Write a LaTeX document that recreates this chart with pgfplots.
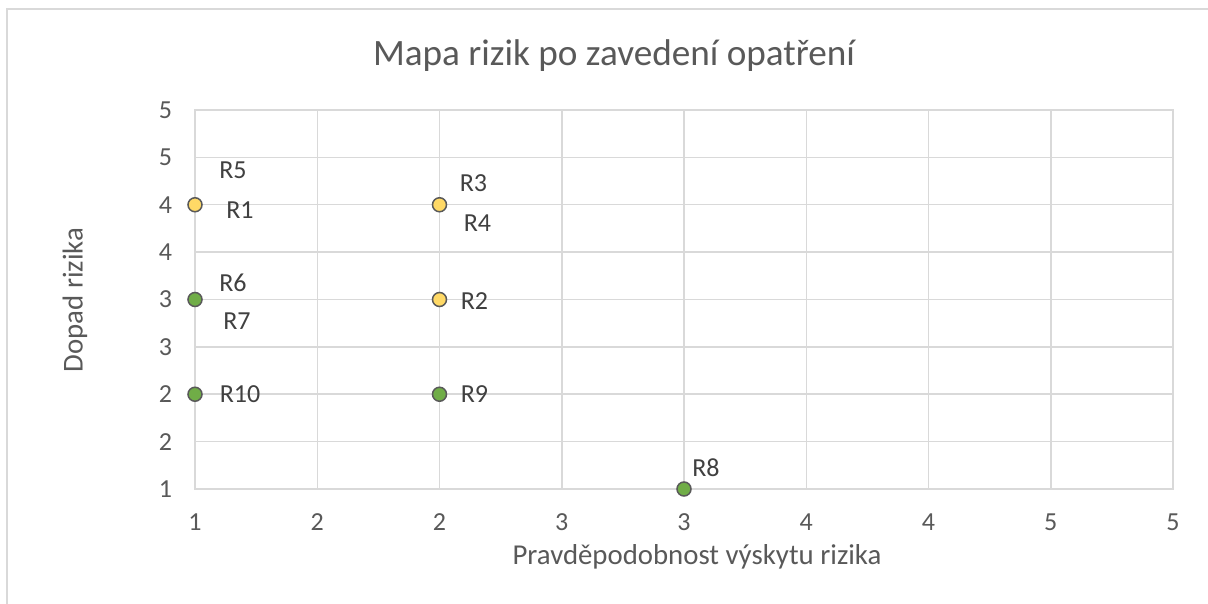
\documentclass[border=0pt]{standalone}
\usepackage{pgfplots}
\pgfplotsset{compat=1.18}
\usepackage{fontspec}
\setmainfont{Carlito}
\definecolor{txt}{HTML}{595959}
\definecolor{lab}{HTML}{404040}
\definecolor{grd}{HTML}{D9D9D9}
\definecolor{yel}{HTML}{FFD966}
\definecolor{grn}{HTML}{70AD47}
\begin{document}
\begin{tikzpicture}[x=0.5pt,y=0.5pt]
\path[use as bounding box] (0,0) rectangle (1208,604);
\fill[white] (0,0) rectangle (1208,604);
\draw[grd, line width=0.75pt] (7,-40) -- (7,595) -- (1230,595);
\node[txt, font=\fontsize{18.6}{22}\selectfont] at (614,548) {Mapa rizik po zavedení opatření};
\node[txt, font=\fontsize{14.4}{17}\selectfont] at (697,47) {Pravděpodobnost výskytu rizika};
\node[txt, font=\fontsize{14.4}{17}\selectfont, rotate=90] at (75,304) {Dopad rizika};
\begin{axis}[
  at={(97.5pt,57.5pt)}, anchor=south west,
  scale only axis, width=489pt, height=189.5pt,
  xmin=1, xmax=5, ymin=1, ymax=5,
  xtick={1,1.5,2,2.5,3,3.5,4,4.5,5},
  ytick={1,1.5,2,2.5,3,3.5,4,4.5,5},
  xticklabels={1,2,2,3,3,4,4,5,5},
  yticklabels={1,2,2,3,3,4,4,5,5},
  grid=major,
  major grid style={grd, line width=0.75pt},
  axis line style={grd, line width=0.75pt},
  tick style={draw=none},
  ticklabel style={txt, font=\fontsize{13}{15}\selectfont},
  yticklabel style={xshift=-8pt},
  xticklabel style={yshift=-9pt},
  clip=false,
]
\addplot[only marks, mark=*, mark size=3.5pt, mark options={fill=yel, draw=txt, line width=0.75pt}] coordinates {(1,4) (2,4) (2,3)};
\addplot[only marks, mark=*, mark size=3.5pt, mark options={fill=grn, draw=txt, line width=0.75pt}] coordinates {(1,3) (1,2) (2,2) (3,1)};
\begin{scope}[every node/.style={lab, font=\fontsize{13}{15}\selectfont}]
\node[xshift=19pt, yshift=17.5pt] at (axis cs:1,4) {R5};
\node[xshift=22.5pt, yshift=-2.5pt] at (axis cs:1,4) {R1};
\node[xshift=17pt, yshift=11pt] at (axis cs:2,4) {R3};
\node[xshift=19pt, yshift=-9pt] at (axis cs:2,4) {R4};
\node[xshift=17.5pt, yshift=-1pt] at (axis cs:2,3) {R2};
\node[xshift=19pt, yshift=8.5pt] at (axis cs:1,3) {R6};
\node[xshift=21pt, yshift=-11pt] at (axis cs:1,3) {R7};
\node[xshift=22.5pt] at (axis cs:1,2) {R10};
\node[xshift=17.5pt] at (axis cs:2,2) {R9};
\node[xshift=11pt, yshift=10.5pt] at (axis cs:3,1) {R8};
\end{scope}
\end{axis}
\end{tikzpicture}
\end{document}
